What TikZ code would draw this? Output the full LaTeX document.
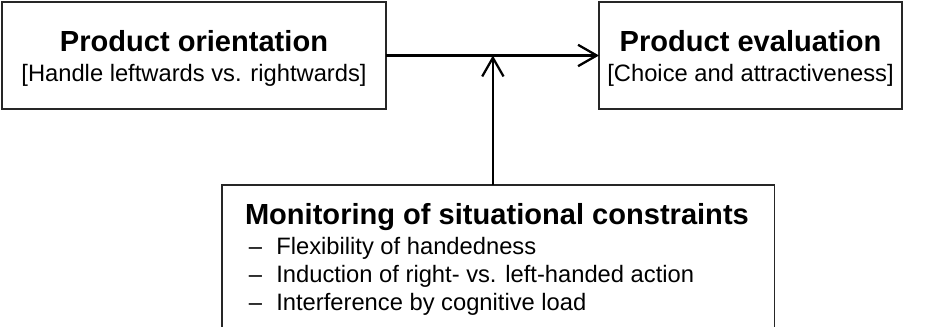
\documentclass[tikz,border=0pt]{standalone}
\usepackage{fontspec}
\setmainfont{Liberation Sans}
\usepackage{tikz}
\usetikzlibrary{positioning,arrows.meta,calc}
\tikzset{
    box/.style={rectangle,draw=black!85,line width=1.1pt,outer sep=0pt,inner sep=0pt,align=center,font=\fontsize{17.8}{22}\selectfont},
    arr/.style={-{Straight Barb[length=14pt,width=16pt,line width=1.7pt]},line width=1.7pt},
}
\newcommand{\ttl}[1]{{\fontsize{21.8}{25}\selectfont\bfseries #1}}
\newcommand{\itm}[1]{\makebox[23.5pt][l]{\,\textendash}#1\par}

\begin{document}
\begin{tikzpicture}[x=0.75pt,y=-0.75pt]
\useasboundingbox (0,0) rectangle (938,327);
\clip (0,0) rectangle (938,327);

\node[box,minimum width=288pt,minimum height=80.25pt] (orient) at (194,55.5)
    {\rule{0pt}{20pt}\ttl{Product orientation}\\{}[Handle leftwards vs. rightwards]};
\node[box,minimum width=227.25pt,minimum height=80.25pt] (eval) at (750.5,55.5)
    {\rule{0pt}{20pt}\ttl{Product evaluation}\\{}[Choice and attractiveness]};
\node[box,anchor=north west,inner xsep=17.25pt,inner ysep=3pt] (monit) at (222,185)
    {\begin{minipage}[t][150pt][t]{380pt}
     \rule{0pt}{27pt}\ttl{Monitoring of situational constraints}\par
     \fontsize{17.8}{21}\selectfont\vspace{1.5pt}
     \itm{Flexibility of handedness}
     \itm{Induction of right- vs. left-handed action}
     \itm{Interference by cognitive load}
     \end{minipage}};
\coordinate (hit) at ([xshift=-4.1pt]monit.north |- orient.east);

\draw[arr] (orient) -- (eval);
\draw[arr] ([xshift=-4.1pt]monit.north) -- (hit);
\end{tikzpicture}
\end{document}
